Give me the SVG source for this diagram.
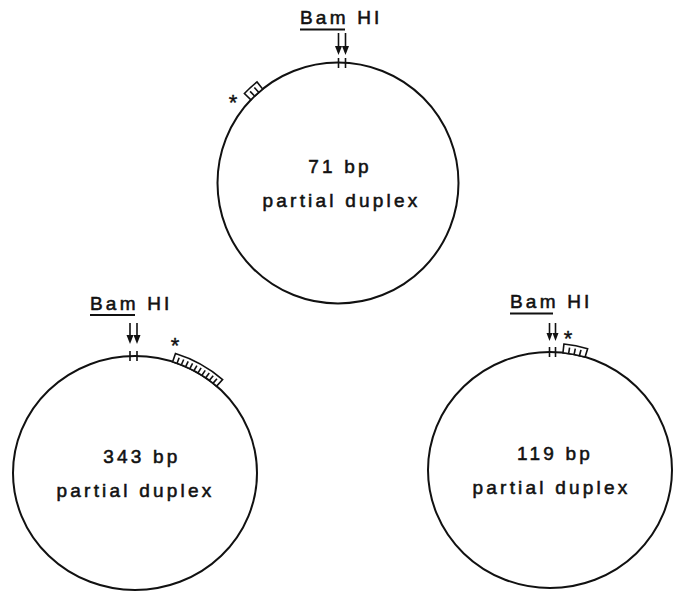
<svg xmlns="http://www.w3.org/2000/svg" width="681" height="592" viewBox="0 0 681 592">
<defs>
<style>
.c{fill:none;stroke:#111;stroke-width:2}
.s{fill:#fff;stroke:#111;stroke-width:1.6;vector-effect:non-scaling-stroke}
.tk{stroke:#111;stroke-width:1.6;vector-effect:non-scaling-stroke}
.ln{stroke:#111;stroke-width:1.8}
.ar{stroke:#111;stroke-width:1.6;fill:none}
.t{font-family:"Liberation Sans",Arial,sans-serif;font-size:19px;letter-spacing:3.2px;fill:#111;stroke:#111;stroke-width:0.55;text-anchor:middle}
.b{font-family:"Liberation Sans",Arial,sans-serif;font-size:19px;letter-spacing:3.2px;fill:#111;stroke:#111;stroke-width:0.55}
.ast{font-family:"Liberation Sans",Arial,sans-serif;font-size:22px;fill:#111;stroke:#111;stroke-width:0.4;text-anchor:middle}
</style>
</defs>

<g id="plasmid-71">
<circle class="c" cx="338" cy="183" r="120.5"/>
<g transform="translate(338,183)">
<g transform="rotate(-42.5)">
<path class="s" d="M-7.96,-120.2 A120.5,120.5 0 0 1 7.96,-120.2 L8.55,-129.2 A129.5,129.5 0 0 0 -8.55,-129.2 Z"/>
<g transform="rotate(-1.3)"><line class="tk" x1="0" y1="-120.5" x2="0" y2="-127"/></g>
<g transform="rotate(1.3)"><line class="tk" x1="0" y1="-120.5" x2="0" y2="-127"/></g>
</g>
</g>
<line class="tk" x1="338.5" y1="58" x2="338.5" y2="68"/>
<line class="tk" x1="345.5" y1="58" x2="345.5" y2="68"/>
<text class="ast" x="233" y="110">*</text>
<text class="b" x="300" y="24">Bam HI</text>
<line class="ln" x1="300" y1="29.5" x2="345" y2="29.5"/>
<line class="ar" x1="338.5" y1="33" x2="338.5" y2="47"/>
<path d="M335,46 L342,46 L338.5,55 Z" fill="#111"/>
<line class="ar" x1="345.5" y1="33" x2="345.5" y2="47"/>
<path d="M342,46 L349,46 L345.5,55 Z" fill="#111"/>
<text class="t" x="340" y="173">71 bp</text>
<text class="t" x="341.5" y="207">partial duplex</text>
</g>

<g id="plasmid-343">
<ellipse class="c" cx="135" cy="473" rx="122" ry="117"/>
<g transform="translate(135,473) scale(1,0.959)">
<g transform="rotate(30)">
<path class="s" d="M-25.4,-119.3 A122,122 0 0 1 25.4,-119.3 L27.2,-128.1 A131,131 0 0 0 -27.2,-128.1 Z"/>
<g transform="rotate(-9.82)"><line class="tk" x1="0" y1="-122" x2="0" y2="-128"/></g>
<g transform="rotate(-7.64)"><line class="tk" x1="0" y1="-122" x2="0" y2="-128"/></g>
<g transform="rotate(-5.45)"><line class="tk" x1="0" y1="-122" x2="0" y2="-128"/></g>
<g transform="rotate(-3.27)"><line class="tk" x1="0" y1="-122" x2="0" y2="-128"/></g>
<g transform="rotate(-1.09)"><line class="tk" x1="0" y1="-122" x2="0" y2="-128"/></g>
<g transform="rotate(1.09)"><line class="tk" x1="0" y1="-122" x2="0" y2="-128"/></g>
<g transform="rotate(3.27)"><line class="tk" x1="0" y1="-122" x2="0" y2="-128"/></g>
<g transform="rotate(5.45)"><line class="tk" x1="0" y1="-122" x2="0" y2="-128"/></g>
<g transform="rotate(7.64)"><line class="tk" x1="0" y1="-122" x2="0" y2="-128"/></g>
<g transform="rotate(9.82)"><line class="tk" x1="0" y1="-122" x2="0" y2="-128"/></g>
</g>
</g>
<line class="tk" x1="130" y1="351" x2="130" y2="361"/>
<line class="tk" x1="137" y1="351" x2="137" y2="361"/>
<text class="ast" x="175" y="353">*</text>
<text class="b" x="90" y="310">Bam HI</text>
<line class="ln" x1="90" y1="315" x2="135" y2="315"/>
<line class="ar" x1="130" y1="323" x2="130" y2="336"/>
<path d="M126.5,335 L133.5,335 L130,344 Z" fill="#111"/>
<line class="ar" x1="137" y1="323" x2="137" y2="336"/>
<path d="M133.5,335 L140.5,335 L137,344 Z" fill="#111"/>
<text class="t" x="142" y="463">343 bp</text>
<text class="t" x="135.5" y="497">partial duplex</text>
</g>

<g id="plasmid-119">
<ellipse class="c" cx="550" cy="470" rx="122" ry="118"/>
<g transform="translate(550,470) scale(1,0.967)">
<g transform="rotate(11.4)">
<path class="s" d="M-11.27,-121.5 A122,122 0 0 1 11.27,-121.5 L12.1,-130.4 A131,131 0 0 0 -12.1,-130.4 Z"/>
<g transform="rotate(-2.6)"><line class="tk" x1="0" y1="-122" x2="0" y2="-128"/></g>
<g transform="rotate(0)"><line class="tk" x1="0" y1="-122" x2="0" y2="-128"/></g>
<g transform="rotate(2.6)"><line class="tk" x1="0" y1="-122" x2="0" y2="-128"/></g>
</g>
</g>
<line class="tk" x1="549.5" y1="347" x2="549.5" y2="357"/>
<line class="tk" x1="555.5" y1="347" x2="555.5" y2="357"/>
<text class="ast" x="568" y="346">*</text>
<text class="b" x="510" y="308">Bam HI</text>
<line class="ln" x1="510" y1="313.5" x2="553" y2="313.5"/>
<line class="ar" x1="549.5" y1="323" x2="549.5" y2="334"/>
<path d="M546.5,333 L552.5,333 L549.5,341 Z" fill="#111"/>
<line class="ar" x1="555.5" y1="323" x2="555.5" y2="334"/>
<path d="M552.5,333 L558.5,333 L555.5,341 Z" fill="#111"/>
<text class="t" x="555" y="460">119 bp</text>
<text class="t" x="551.5" y="494">partial duplex</text>
</g>

<g id="connectors"></g>
</svg>
